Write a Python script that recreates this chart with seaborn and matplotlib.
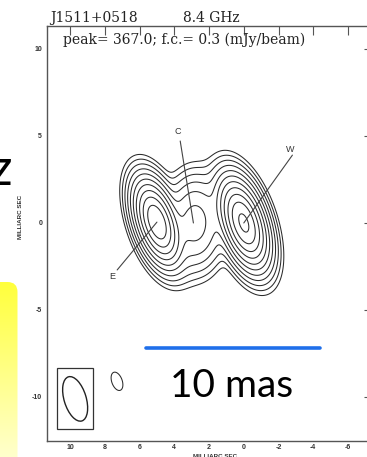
import numpy as np
import matplotlib
matplotlib.use("Agg")
import matplotlib.pyplot as plt
from matplotlib.patches import Ellipse, Rectangle, FancyBboxPatch
from matplotlib.colors import LinearSegmentedColormap
import seaborn as sns
import pandas as pd

# ---------------- data ----------------
# Model components of the map: offsets (mas), peak (mJy/beam), FWHM (mas), PA (deg),
# core softness of the radial profile (0 = Gaussian)
comp_x = [5.0, 2.8, 0.0]
comp_y = [0.05, 0.0, 0.0]
comp_peak = [290.0, 13.0, 367.0]
comp_major = [2.1, 3.0, 2.2]
comp_minor = [0.95, 1.8, 1.0]
comp_pa = [18.0, 0.0, 18.0]
comp_core = [2.0, 0.0, 2.0]

blob_x = [7.3]
blob_y = [-9.1]
blob_peak = [0.6]
blob_major = [1.1]
blob_minor = [0.6]
blob_pa = [20.0]
blob_core = [0.0]

contour_levels = [0.3, 0.6, 1.2, 2.4, 4.8, 9.6, 19.2, 38.4, 76.8, 153.6, 307.2]

label_names = ["E", "C", "W"]
label_end_x = [5.0, 2.9, 0.0]
label_end_y = [0.05, 0.0, 0.0]
label_text_x = [7.58, 3.78, -2.68]
label_text_y = [-3.1, 5.23, 4.2]
label_start_x = [7.29, 3.66, -2.8]
label_start_y = [-2.7, 4.71, 3.9]

beam_x, beam_y = 9.71, -10.11
beam_major, beam_minor, beam_pa = 2.65, 1.27, 17.0
beam_box_x = [10.75, 8.67]
beam_box_y = [-11.84, -8.33]

scalebar_x = [5.65, -4.4]
scalebar_y = [-7.18, -7.18]
scalebar_label = "10 mas"

xticks = [10, 8, 6, 4, 2, 0, -2, -4, -6]
yticks = [10, 5, 0, -5, -10]

title_source = "J1511+0518"
title_freq = "8.4 GHz"
peak_text = "peak= 367.0; f.c.= 0.3 (mJy/beam)"
axis_label = "MILLIARC SEC"

# ---------------- style ----------------
sns.set_theme(style="white")
plt.rcParams["axes.unicode_minus"] = False
plt.rcParams["font.family"] = ["Liberation Sans", "DejaVu Sans"]

W_PX, H_PX = 367, 457
fig = plt.figure(figsize=(W_PX / 100, H_PX / 100), dpi=100)
fig.patch.set_facecolor("white")

# background overlay axes in pixel coords
ax_bg = fig.add_axes([0, 0, 1, 1], zorder=-1)
ax_bg.set_xlim(0, W_PX)
ax_bg.set_ylim(H_PX, 0)
ax_bg.axis("off")
grad = np.linspace(0, 1, 200).reshape(-1, 1)
ycmap = LinearSegmentedColormap.from_list("yl", ["#FFFF3C", "#FFFFCC"])
im = ax_bg.imshow(grad, extent=[-5, 17.5, H_PX, 282], aspect="auto", cmap=ycmap)
clip = FancyBboxPatch((-20, 282), 37.5, 220, boxstyle="round,pad=0,rounding_size=10",
                      transform=ax_bg.transData, facecolor="none", edgecolor="none")
ax_bg.add_patch(clip)
im.set_clip_path(clip)

# main axes
ax = fig.add_axes([47 / W_PX, 16 / H_PX, 326 / W_PX, 415 / H_PX])
ax.set_facecolor("white")
xlim = (11.33, -7.44)
ylim = (-12.53, 11.32)

gx = np.linspace(-7.6, 11.5, 560)
gy = np.linspace(-12.7, 11.5, 700)
X, Y = np.meshgrid(gx, gy)


def component(x0, y0, pk, maj, mnr, pa, core):
    t = np.deg2rad(pa)
    u = X - x0
    v = Y - y0
    a = u * np.sin(t) + v * np.cos(t)
    b = u * np.cos(t) - v * np.sin(t)
    r = np.sqrt((a / (maj / 2)) ** 2 + (b / (mnr / 2)) ** 2)
    if core > 0:
        g = (np.sqrt(r ** 2 + core ** 2) - core) / (np.sqrt(1 + core ** 2) - core)
    else:
        g = r ** 2
    return pk * np.exp(-np.log(2) * g)


Z = np.zeros_like(X)
for i in range(len(comp_x)):
    Z += component(comp_x[i], comp_y[i], comp_peak[i], comp_major[i], comp_minor[i],
                   comp_pa[i], comp_core[i])
for i in range(len(blob_x)):
    Z += component(blob_x[i], blob_y[i], blob_peak[i], blob_major[i], blob_minor[i],
                   blob_pa[i], blob_core[i])

ax.contour(X, Y, Z, levels=contour_levels, colors="#2b2b2b", linewidths=0.75)

# label pointers
for i, name in enumerate(label_names):
    df = pd.DataFrame({"x": [label_start_x[i], label_end_x[i]],
                       "y": [label_start_y[i], label_end_y[i]]})
    sns.lineplot(data=df, x="x", y="y", sort=False, estimator=None, color="#444444",
                 linewidth=0.8, ax=ax)
    ax.text(label_text_x[i], label_text_y[i], name, ha="center", va="center",
            fontsize=6.5, color="#333333")

# beam
ax.add_patch(Rectangle((beam_box_x[1], beam_box_y[0]), beam_box_x[0] - beam_box_x[1],
                       beam_box_y[1] - beam_box_y[0], fill=False, edgecolor="#333333", lw=0.9))
ax.add_patch(Ellipse((beam_x, beam_y), width=beam_minor, height=beam_major, angle=-beam_pa,
                     fill=False, edgecolor="#222222", lw=1.0))

# scale bar
sb = pd.DataFrame({"x": scalebar_x, "y": scalebar_y})
sns.lineplot(data=sb, x="x", y="y", sort=False, estimator=None, color="#1F6FEA",
             linewidth=2.6, ax=ax, zorder=5)
ax.text(np.mean(scalebar_x) + 0.05, -10.0, scalebar_label, ha="center", va="baseline",
        fontsize=28, color="black", family=["Lato", "DejaVu Sans"])

ax.set_xlim(*xlim)
ax.set_ylim(*ylim)
ax.set_xticks(xticks)
ax.set_yticks(yticks)
ax.set_xticklabels([str(t) for t in xticks])
ax.set_yticklabels([str(t) for t in yticks])
ax.set_xlabel("")
ax.set_ylabel("")
ax.tick_params(axis="both", which="major", direction="in", length=6.3, width=0.8,
               color="#555555", top=True, right=True, labeltop=False, labelright=False,
               labelsize=5, labelcolor="#333333")
ax.tick_params(axis="x", pad=2)
ax.tick_params(axis="y", pad=3.5)
for lab in ax.get_xticklabels() + ax.get_yticklabels():
    lab.set_fontweight("bold")
for s in ax.spines.values():
    s.set_color("#555555")
    s.set_linewidth(1.0)

# texts
serif = ["DejaVu Serif"]
fig.text(50 / W_PX, (H_PX - 22) / H_PX, title_source, ha="left", va="baseline",
         fontsize=10, family=serif, color="#222222")
fig.text(183 / W_PX, (H_PX - 22) / H_PX, title_freq, ha="left", va="baseline",
         fontsize=10, family=serif, color="#222222")
fig.text(63 / W_PX, (H_PX - 44) / H_PX, peak_text, ha="left", va="baseline",
         fontsize=10, family=serif, color="#222222")
fig.text(215 / W_PX, (H_PX - 456) / H_PX, axis_label, ha="center", va="center",
         fontsize=4.5, fontweight="bold", color="#333333")
fig.text(21 / W_PX, (H_PX - 217) / H_PX, axis_label, ha="center", va="center",
         rotation=90, fontsize=4.5, fontweight="bold", color="#333333")
fig.text(13 / W_PX, (H_PX - 185) / H_PX, "GHz", ha="right", va="baseline",
         fontsize=36, color="black", family=["Lato", "DejaVu Sans"])

fig.savefig("out.png", dpi=100)
